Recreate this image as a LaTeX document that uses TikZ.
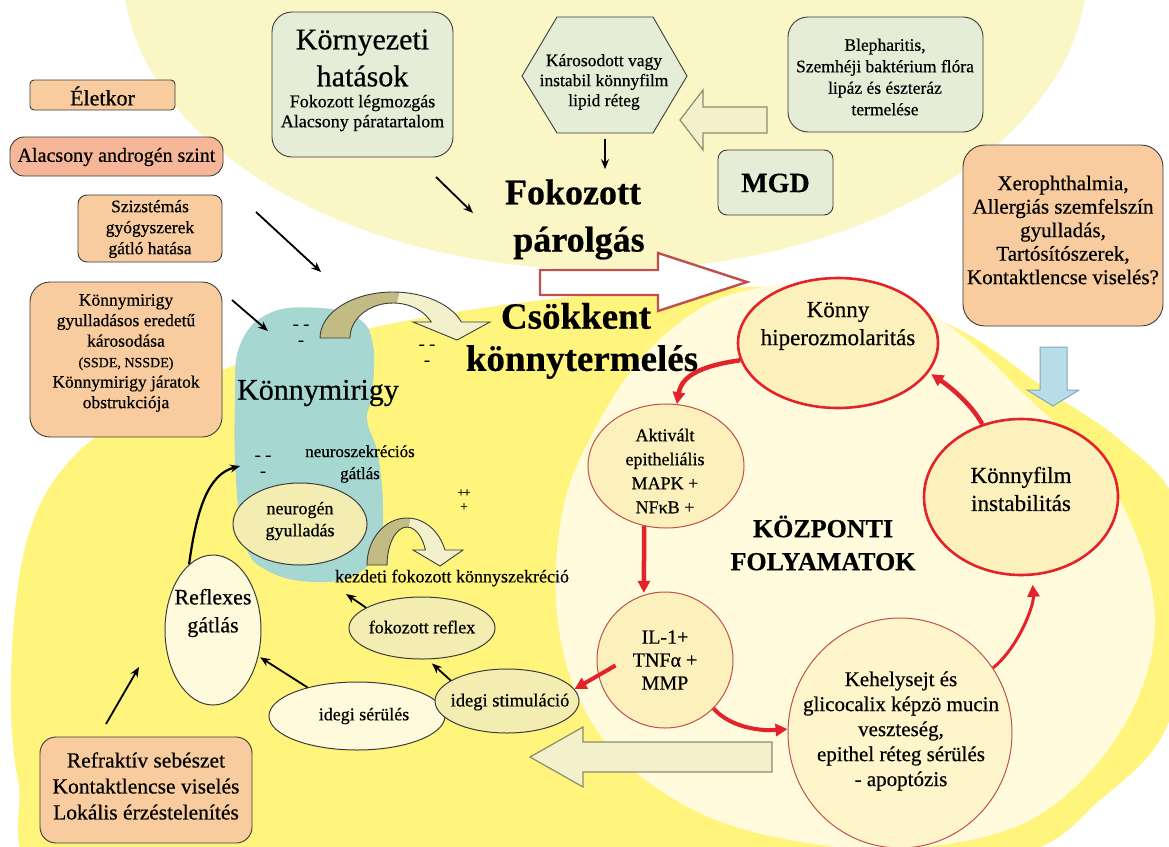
\documentclass[tikz,border=0pt]{standalone}
\usepackage{fontspec}
\setmainfont{Liberation Serif}[FakeBold=0.5]
\usetikzlibrary{shapes.geometric,arrows.meta,calc}
\definecolor{topyel}{HTML}{FBF6C6}
\definecolor{deepyel}{HTML}{FFF47C}
\definecolor{paleyel}{HTML}{FFFBDC}
\definecolor{glandcol}{HTML}{A6D7D1}
\definecolor{tanf}{HTML}{F8CC9E}
\definecolor{salmonf}{HTML}{F5B797}
\definecolor{greenf}{HTML}{E6EDD6}
\definecolor{boxline}{HTML}{3C3C3C}
\definecolor{redline}{HTML}{E2232B}
\definecolor{brownred}{HTML}{C0504D}
\definecolor{ellfill}{HTML}{FCF1BC}
\definecolor{ellfilltwo}{HTML}{FFF5CA}
\definecolor{khaki}{HTML}{F4EDB2}
\definecolor{paleell}{HTML}{FFFADC}
\definecolor{arrowfill}{HTML}{F3F1CB}
\definecolor{arrowline}{HTML}{8C8C6C}
\definecolor{udark}{HTML}{C2BC84}
\definecolor{blueA}{HTML}{B7DDE8}
\definecolor{blueline}{HTML}{8AA6B8}
\newcommand\fsz[2]{\fontsize{#1}{#2}\selectfont}
\begin{document}
\begin{tikzpicture}[x=1pt,y=-1pt,
  box/.style={draw=boxline, line width=0.9pt, inner sep=0pt},
  tanbox/.style={box, fill=tanf},
  greenbox/.style={box, fill=greenf},
  txt/.style={align=center, inner sep=0pt, text=black},
  ell/.style={ellipse, inner sep=0pt},
  redell/.style={ell, draw=redline, line width=2.6pt, fill=ellfill},
  thinell/.style={ell, draw=brownred, line width=1pt, fill=ellfill},
  blkell/.style={ell, draw=boxline, line width=1pt},
  blk/.style={draw=black, line width=1.8pt, -{Stealth[length=10pt,width=8pt]}},
  redar/.style={draw=redline, line width=#1, -{Triangle[length=12pt,width=12pt]}},
  blockarrow/.style={fill=arrowfill, draw=arrowline, line width=1.2pt, line join=miter},
]
\useasboundingbox (0,0) rectangle (1169,846);
% ---------- background ----------
\begin{scope}
\clip (0,0) rectangle (1169,846);
\fill[white] (0,0) rectangle (1169,846);
\fill[topyel] (605,-30) ellipse [x radius=482, y radius=300];
\fill[deepyel] plot[smooth cycle, tension=0.6] coordinates {(12,650) (30,530) (75,455) (150,405) (250,360) (400,322) (560,298) (700,288) (850,292) (960,330) (1050,392) (1120,440) (1175,500) (1190,600) (1185,660) (1160,740) (1100,800) (1020,855) (800,900) (400,900) (60,880) (18,780)};
\fill[paleyel] plot[smooth cycle, tension=0.6] coordinates {(600,420) (640,360) (690,315) (740,292) (820,283) (900,298) (965,338) (1025,395) (1105,475) (1150,580) (1148,670) (1100,760) (1020,825) (900,849) (790,840) (700,813) (622,760) (575,690) (556,600) (565,500)};
\end{scope}
% gland
\fill[glandcol] plot[smooth cycle, tension=0.7] coordinates {(270,313) (320,308) (358,318) (373,345) (372,395) (367,420) (378,455) (383,510) (378,550) (355,575) (315,582) (270,572) (245,545) (236,480) (235,400) (240,345)};

% ---------- left boxes ----------
\node[tanbox, rounded corners=4pt, minimum width=145pt, minimum height=30pt] (elet) at (102.5,95) {};
\node[txt, font=\fsz{22}{26}] (elett) at (102.5,96) {Életkor};
\node[box, fill=salmonf, rounded corners=14pt, minimum width=213pt, minimum height=39pt] (andr) at (116.5,156.5) {};
\node[txt, font=\fsz{20}{24}] (andrt) at (116.5,157) {Alacsony androgén szint};
\node[tanbox, rounded corners=9pt, minimum width=144pt, minimum height=67pt] (szizt) at (150,228.5) {};
\node[txt, font=\fsz{17.5}{21}] (sziztt) at (150,229) {Szizstémás\\gyógyszerek\\gátló hatása};
\node[tanbox, rounded corners=20pt, minimum width=192pt, minimum height=155pt] (kmbox) at (126,359.5) {};
\node[txt, font=\fsz{17.5}{20.5}] (kmboxt) at (126,353) {Könnymirigy\\gyulladásos eredetű\\károsodása\\{\fsz{14}{20.5}(SSDE, NSSDE)}\\Könnymirigy járatok\\obstrukciója};
\node[tanbox, rounded corners=16pt, minimum width=212pt, minimum height=106pt] (refr) at (146,790) {};
\node[txt, font=\fsz{21.5}{26}] (refrt) at (146,786) {Refraktív sebészet\\Kontaktlencse viselés\\Lokális érzéstelenítés};

% ---------- top boxes ----------
\node[greenbox, rounded corners=20pt, minimum width=181pt, minimum height=145pt] (korny) at (362.5,84.5) {};
\node[txt, font=\fsz{30}{37}] (kornyta) at (362.5,58) {Környezeti\\hatások};
\node[txt, font=\fsz{18}{20}] (kornytb) at (362.5,113) {Fokozott légmozgás\\Alacsony páratartalom};
\filldraw[fill=greenf, draw=boxline, line width=0.9pt] (522,76) -- (557,17) -- (653,17) -- (687,76) -- (653,133) -- (557,133) -- cycle;
\node[inner sep=0pt, minimum width=96pt, minimum height=116pt] (hex) at (605,75) {};
\node[txt, font=\fsz{17.5}{20}] (hext) at (604,82) {Károsodott vagy\\instabil könnyfilm\\lipid réteg};
\node[greenbox, rounded corners=20pt, minimum width=195pt, minimum height=115pt] (bleph) at (885.5,74.5) {};
\node[txt, font=\fsz{17.5}{21.5}] (blepht) at (885,77) {Blepharitis,\\Szemhéji baktérium flóra\\lipáz és észteráz\\termelése};
\node[greenbox, rounded corners=9pt, minimum width=115pt, minimum height=65pt] (mgd) at (775.5,182.5) {};
\node[txt, font=\fsz{28}{30}\bfseries] (mgdt) at (775.5,183) {MGD};
\filldraw[blockarrow] (767,107) -- (703,107) -- (703,90) -- (680,120) -- (703,150) -- (703,133) -- (767,133) -- cycle;
\node[tanbox, rounded corners=22pt, minimum width=200pt, minimum height=181pt] (xer) at (1063,235.5) {};
\node[txt, font=\fsz{21}{23.5}] (xert) at (1063,230) {Xerophthalmia,\\Allergiás szemfelszín\\gyulladás,\\Tartósítószerek,\\Kontaktlencse viselés?};
\filldraw[fill=blueA, draw=blueline, line width=1pt] (1040,347) -- (1067,347) -- (1067,390) -- (1079,390) -- (1053,406) -- (1027,390) -- (1040,390) -- cycle;

% ---------- big texts ----------
\node[txt, font=\fsz{36}{40}\bfseries] (fok1) at (573,192) {Fokozott};
\node[txt, font=\fsz{36}{40}\bfseries] (fok2) at (579,243) {párolgás};
\node[txt, font=\fsz{37}{40}\bfseries] (csk1) at (576,316) {Csökkent};
\node[txt, font=\fsz{37}{40}\bfseries] (csk2) at (582,362) {könnytermelés};
\filldraw[fill=white, draw=brownred, line width=2.4pt, line join=miter] (540,270) -- (658,270) -- (658,253) -- (747,282) -- (658,311) -- (658,295) -- (540,295) -- cycle;

% ---------- curved U arrows ----------
\fill[arrowfill] (320,338) arc[start angle=180, end angle=339.6, x radius=73, y radius=46] -- (490,322) -- (457,340) -- (413,322) -- (431.2,322) arc[start angle=332.8, end angle=180, x radius=43, y radius=35] -- cycle;
\fill[udark] (320,338) arc[start angle=180, end angle=275, x radius=73, y radius=46] -- ({393+43*cos(275)},{338+35*sin(275)}) arc[start angle=275, end angle=180, x radius=43, y radius=35] -- cycle;
\draw[draw=boxline, line width=0.9pt, line join=miter] (320,338) arc[start angle=180, end angle=339.6, x radius=73, y radius=46] -- (490,322) -- (457,340) -- (413,322) -- (431.2,322) arc[start angle=332.8, end angle=180, x radius=43, y radius=35] -- cycle;

\fill[arrowfill] (367,565) arc[start angle=180, end angle=341.4, x radius=40, y radius=47] -- (463,550) -- (440,566) -- (413,550) -- (425.4,550) arc[start angle=336.7, end angle=180, x radius=20, y radius=38] -- cycle;
\fill[udark] (367,565) arc[start angle=180, end angle=275, x radius=40, y radius=47] -- ({407+20*cos(275)},{565+38*sin(275)}) arc[start angle=275, end angle=180, x radius=20, y radius=38] -- cycle;
\draw[draw=boxline, line width=0.9pt, line join=miter] (367,565) arc[start angle=180, end angle=341.4, x radius=40, y radius=47] -- (463,550) -- (440,566) -- (413,550) -- (425.4,550) arc[start angle=336.7, end angle=180, x radius=20, y radius=38] -- cycle;

% ---------- gland area texts ----------
\node[txt, font=\fsz{30}{34}] (kmlabel) at (318,393) {Könnymirigy};
\node[txt, font=\fsz{17}{22}] (nsz) at (360,464) {neuroszekréciós\\gátlás};
\node[txt, font=\fsz{18}{20}] (kez) at (452,578) {kezdeti fokozott könnyszekréció};
\node[txt, font=\fsz{18}{16}] (dma) at (301,335) {- -\\-};
\node[txt, font=\fsz{18}{16}] (dmb) at (427,355) {- -\\-};
\node[txt, font=\fsz{18}{16}] (dmc) at (263,466) {- -\\-};
\node[txt, font=\fsz{13}{14}] (pm) at (464,500) {+\kern-1.5pt+\\+};

% ---------- left ellipses ----------
\node[blkell, fill=khaki, minimum width=134pt, minimum height=82pt] (neu) at (300,524) {};
\node[txt, font=\fsz{18}{22}] (neut) at (300,521) {neurogén\\gyulladás};
\node[blkell, fill=paleell, minimum width=96pt, minimum height=150pt] (refl) at (213,630) {};
\node[txt, font=\fsz{22}{28}] (reflt) at (213,613) {Reflexes\\gátlás};
\node[blkell, fill=khaki, minimum width=146pt, minimum height=62pt] (ref) at (422,628) {};
\node[txt, font=\fsz{18}{20}] (reft) at (422,627) {fokozott reflex};
\node[blkell, fill=paleell, minimum width=176pt, minimum height=68pt] (ser) at (357,716) {};
\node[txt, font=\fsz{18}{20}] (sert) at (364,716) {idegi sérülés};
\node[blkell, fill=khaki, minimum width=144pt, minimum height=64pt] (stim) at (507,701) {};
\node[txt, font=\fsz{18.5}{20}] (stimt) at (510,702) {idegi stimuláció};
\filldraw[blockarrow] (772,742) -- (583,742) -- (583,727) -- (530,757) -- (583,787) -- (583,772) -- (772,772) -- cycle;

% ---------- central cycle ----------
\node[redell, minimum width=200pt, minimum height=130pt] (hyp) at (838,343) {};
\node[txt, font=\fsz{23}{28}] (hypt) at (838,326) {Könny\\hiperozmolaritás};
\node[thinell, minimum width=156pt, minimum height=124pt] (akt) at (666,466) {};
\node[txt, font=\fsz{18}{24}] (aktt) at (665,471) {Aktivált\\epitheliális\\MAPK +\\NFκB +};
\node[thinell, minimum width=136pt, minimum height=136pt] (il) at (665,660) {};
\node[txt, font=\fsz{20}{23}] (ilt) at (665,660) {IL-1+\\TNFα +\\MMP};
\node[thinell, fill=ellfilltwo, minimum width=224pt, minimum height=230pt] (keh) at (900,733) {};
\node[txt, font=\fsz{21}{25}] (keht) at (901,731) {Kehelysejt és\\glicocalix képzö mucin\\veszteség,\\epithel réteg sérülés\\- apoptózis};
\node[redell, minimum width=194pt, minimum height=156pt] (kf) at (1021,497) {};
\node[txt, font=\fsz{23}{28}] (kft) at (1021,489) {Könnyfilm\\instabilitás};
\node[txt, font=\fsz{26}{33}\bfseries] (kp) at (823,543) {KÖZPONTI\\FOLYAMATOK};

% ---------- black connectors ----------
\coordinate (sa1) at (256,212); \coordinate (sa2) at (321,272);
\draw[blk] (sa1) -- (sa2);
\coordinate (sb1) at (232,300); \coordinate (sb2) at (268,331);
\draw[blk] (sb1) -- (sb2);
\coordinate (sc1) at (436,177); \coordinate (sc2) at (473,213);
\draw[blk] (sc1) -- (sc2);
\draw[blk, line width=1.5pt, shorten <=6pt, shorten >=10pt] (hex.south) -- (hex.south |- fok1.north);
\coordinate (nsg) at (240,466);
\draw[blk, line width=2.2pt] (refl.110) .. controls +(8,-60) and +(-30,8) .. (nsg);
\coordinate (ra) at (106,724); \coordinate (rb) at (139,667);
\draw[blk] (ra) -- (rb);
\draw[blk, shorten >=2pt] (ser.150) -- (refl.-30);
\draw[blk, shorten >=6pt] (stim.160) -- (ref.-80);
\coordinate (kk) at (346,594);
\draw[blk] (ref.160) -- (kk);

% ---------- red connectors ----------
\draw[redar=4.5pt] (hyp.190) .. controls +(-35,5) and +(5,-30) .. (akt.80);
\draw[redar=4.5pt, shorten >=2pt] (akt.250) -- (il.108);
\draw[redar=4pt] (il.-45) .. controls +(18,20) and +(-25,2) .. (keh.178);
\draw[redar=3pt, shorten >=9pt] (keh.35) .. controls +(25,-20) and +(2,30) .. (kf.-82);
\draw[redar=4.5pt, shorten >=3pt] (kf.118) .. controls +(-12,-22) and +(18,12) .. (hyp.-18);
\draw[redar=4pt, shorten <=-20pt] (il.193) -- (stim.10);
\end{tikzpicture}
\end{document}
